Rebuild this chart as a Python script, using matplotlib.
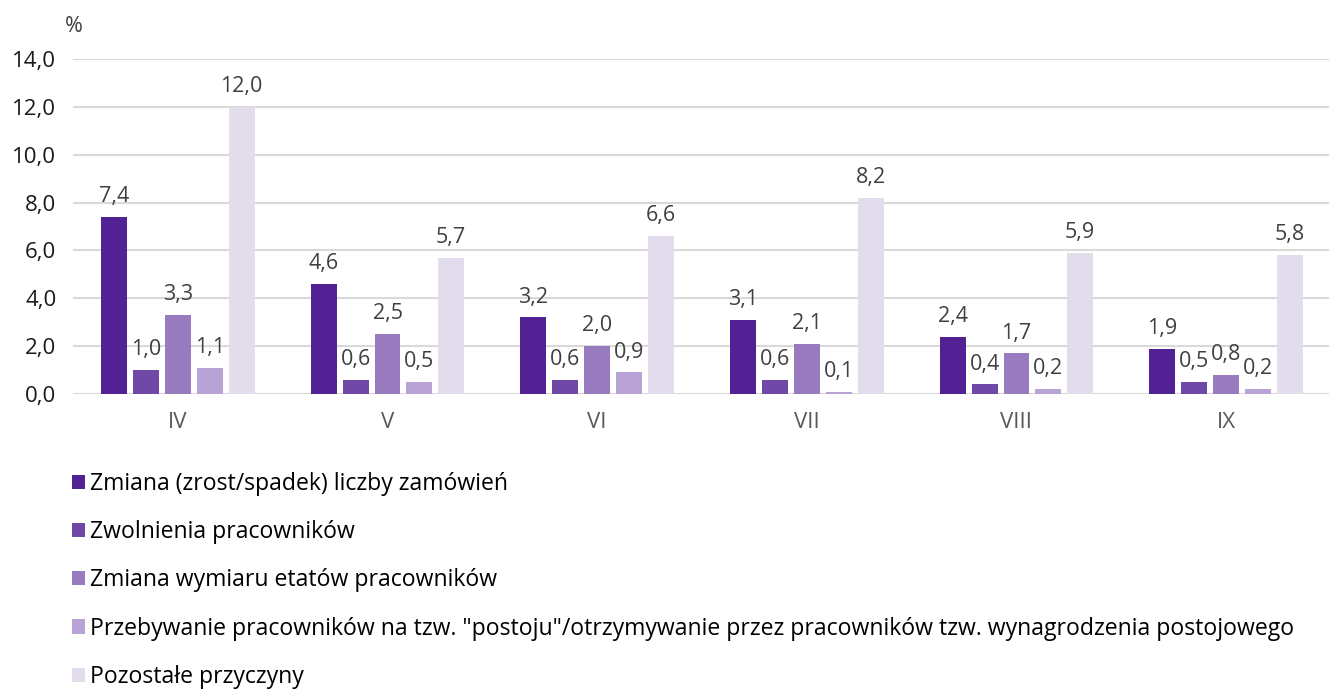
import matplotlib.pyplot as plt
import numpy as np
from matplotlib.patches import Patch

plt.rcParams['font.family'] = ['Open Sans', 'DejaVu Sans']

# data
months = ['IV', 'V', 'VI', 'VII', 'VIII', 'IX']
series_names = [
    'Zmiana (zrost/spadek) liczby zamówień',
    'Zwolnienia pracowników',
    'Zmiana wymiaru etatów pracowników',
    'Przebywanie pracowników na tzw. "postoju"/otrzymywanie przez pracowników tzw. wynagrodzenia postojowego',
    'Pozostałe przyczyny',
]
zamowienia = [7.4, 4.6, 3.2, 3.1, 2.4, 1.9]
zwolnienia = [1.0, 0.6, 0.6, 0.6, 0.4, 0.5]
etaty = [3.3, 2.5, 2.0, 2.1, 1.7, 0.8]
postoj = [1.1, 0.5, 0.9, 0.1, 0.2, 0.2]
pozostale = [12.0, 5.7, 6.6, 8.2, 5.9, 5.8]
colors = ['#522193', '#7048a8', '#977bbe', '#b9a3d6', '#e2dcec']

fig = plt.figure(figsize=(13.29, 6.93), dpi=100)
ax = fig.add_axes([73 / 1329, 299 / 693, 1258 / 1329, 335 / 693])

x = np.arange(len(months))
step = 0.152
all_series = [zamowienia, zwolnienia, etaty, postoj, pozostale]
for i, (vals, col) in enumerate(zip(all_series, colors)):
    bars = ax.bar(x + (i - 2) * step, vals, width=0.124, color=col, zorder=3)
    for b, v in zip(bars, vals):
        ax.annotate(f'{v:.1f}'.replace('.', ','), (b.get_x() + b.get_width() / 2, v),
                    xytext=(0, 7), textcoords='offset points',
                    ha='center', va='bottom', fontsize=15.5, color='#404040')

ax.set_xlim(-0.5, 5.5)
ax.set_ylim(0, 14)
ax.set_yticks(np.arange(0, 15, 2))
ax.set_yticklabels([f'{t:.1f}'.replace('.', ',') for t in np.arange(0, 15, 2)],
                   fontsize=16, color='#1a1a1a')
ax.set_xticks(x)
ax.set_xticklabels(months, fontsize=16, color='#595959')
ax.tick_params(length=0, axis='y', pad=12)
ax.tick_params(length=0, axis='x', pad=13)
ax.grid(axis='y', color='#d9d9d9', linewidth=1.5, zorder=0)
for s in ax.spines.values():
    s.set_visible(False)

fig.text(65 / 1329, 1 - 27 / 693, '%', fontsize=15.5, color='#404040', va='center')

handles = [Patch(facecolor=c, edgecolor='none') for c in colors]
fig.legend(handles, series_names, loc='upper left', bbox_to_anchor=(72 / 1329, 1 - 472 / 693),
           frameon=False, fontsize=16.6, handlelength=0.58, handleheight=0.58,
           handletextpad=0.2, labelspacing=1.05, borderaxespad=0, borderpad=0)

fig.savefig('out.png', dpi=100)
